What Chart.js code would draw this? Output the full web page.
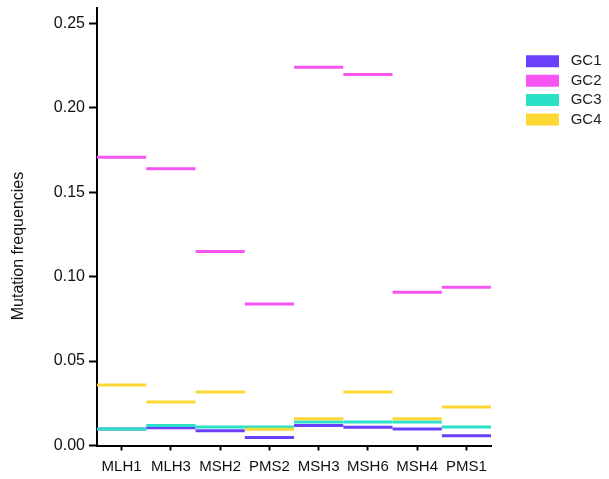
<!DOCTYPE html>
<html>
<head>
<meta charset="utf-8">
<script src="https://cdn.jsdelivr.net/npm/chart.js@4"></script>
<style>
  html, body { margin: 0; padding: 0; background: #fff; }
  #wrap { width: 609px; height: 479px; }
</style>
</head>
<body>
<div id="wrap"><canvas id="chart"></canvas></div>
<script>
/* ---------- data ---------- */
const genes  = ["MLH1", "MLH3", "MSH2", "PMS2", "MSH3", "MSH6", "MSH4", "PMS1"];
const groups = ["GC1", "GC2", "GC3", "GC4"];
const gc1 = [0.0098, 0.0105, 0.0087, 0.0048, 0.0119, 0.0108, 0.0098, 0.0058];
const gc2 = [0.1707, 0.1638, 0.1148, 0.0838, 0.2239, 0.2197, 0.0907, 0.0937];
const gc3 = [0.0098, 0.0119, 0.0109, 0.0109, 0.0139, 0.0139, 0.0139, 0.0109];
const gc4 = [0.0358, 0.0257, 0.0316, 0.0096, 0.0158, 0.0316, 0.0158, 0.0228];
const yTicks = [0, 0.05, 0.10, 0.15, 0.20, 0.25];
const yTitle = "Mutation frequencies";

/* ---------- style ---------- */
const colors = ["#6a40fb", "#f655f3", "#2ae0c8", "#fdd835"];
const font   = "'Liberation Sans', Arial, Helvetica, sans-serif";

const mk = (i, data) => ({
  label: groups[i], data,
  showLine: false,
  borderWidth: 0,
  backgroundColor: colors[i], borderColor: colors[i],
  pointStyle: "line", pointRadius: 24.6,
  pointBorderColor: colors[i], pointBorderWidth: 3,
  order: 4 - i          // later groups drawn on top
});

// y title sits a bit lower than the axis middle in the original
const yTitlePlugin = {
  id: "yTitle",
  afterDraw (ch) {
    const c = ch.ctx;
    c.save();
    c.translate(19, 246);
    c.rotate(-Math.PI / 2);
    c.font = "16px " + font;
    c.fillStyle = "#111";
    c.textAlign = "center";
    c.textBaseline = "middle";
    c.fillText(yTitle, 0, 0);
    c.restore();
  }
};

new Chart(document.getElementById("chart"), {
  type: "line",
  data: {
    labels: genes,
    datasets: [mk(0, gc1), mk(1, gc2), mk(2, gc3), mk(3, gc4)]
  },
  plugins: [yTitlePlugin],
  options: {
    responsive: true, maintainAspectRatio: false,
    animation: false, events: [],
    layout: { autoPadding: false, padding: { top: 8, right: -2.5, bottom: 0, left: 0 } },
    plugins: {
      tooltip: { enabled: false },
      legend: {
        position: "right", align: "start",
        title: { display: true, text: "", padding: { top: 27, bottom: 0 } },
        labels: {
          boxWidth: 33, boxHeight: 12, padding: 4.4,
          color: "#222", font: { family: font, size: 15 },
          sort: (a, b) => a.datasetIndex - b.datasetIndex,
          generateLabels: ch => Chart.defaults.plugins.legend.labels.generateLabels(ch)
                                  .map(l => ({ ...l, text: " " + l.text }))
        }
      }
    },
    scales: {
      x: {
        type: "category", offset: true,
        afterFit: s => { s.height = 33.5; },
        border: { display: true, color: "#000", width: 2 },
        grid: { display: true, drawOnChartArea: false, drawTicks: true,
                tickLength: 5, tickColor: "#000", tickWidth: 2, offset: false },
        ticks: { color: "#111", padding: 7.5, font: { family: font, size: 15 },
                 maxRotation: 0, autoSkip: false }
      },
      y: {
        min: 0, max: 0.259,
        afterFit: s => { s.width = 97; s.paddingTop = 0; s.paddingBottom = 0; },
        afterBuildTicks: s => { s.ticks = yTicks.map(v => ({ value: v })); },
        border: { display: true, color: "#000", width: 2 },
        grid: { display: true, drawOnChartArea: false, drawTicks: true,
                tickLength: 8, tickColor: "#000", tickWidth: 2 },
        ticks: { color: "#111", padding: 4, font: { family: font, size: 16 },
                 callback: v => Number(v).toFixed(2) }
      },
      y2: {
        position: "right", min: 0, max: 1,
        afterFit: s => { s.width = 30.5; },
        border: { display: false }, grid: { display: false },
        ticks: { display: false }
      }
    }
  }
});
</script>
</body>
</html>
